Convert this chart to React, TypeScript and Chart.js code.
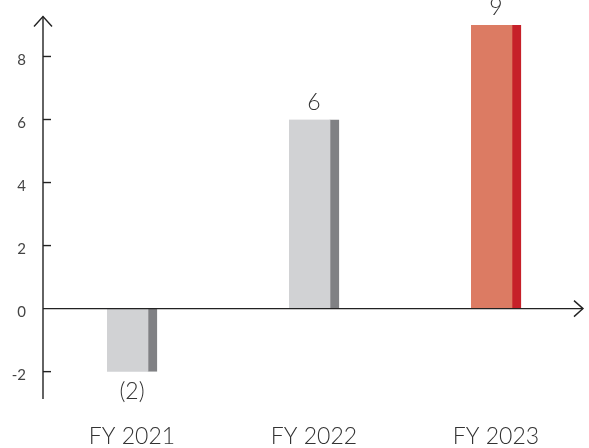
import React, { useEffect, useRef } from "react";
import { Chart, registerables } from "chart.js";

Chart.register(...registerables);

const categories = ["FY 2021", "FY 2022", "FY 2023"];
const values = [-2, 6, 9];
const yTickValues = [-2, 0, 2, 4, 6, 8];
const yMin = -2.9;
const yMax = 9.3;

const fillColors = ["#D1D2D4", "#D1D2D4", "#DC7B63"];
const edgeColors = ["#808184", "#808184", "#C62029"];

const FONT = "Lato, 'Open Sans', sans-serif";

const fmt = (v: number) => (v < 0 ? `(${-v})` : `${v}`);

const axesPlugin = {
  id: "customAxes",
  afterDatasetsDraw(chart: any) {
    const { ctx, chartArea, scales } = chart;
    const ys = scales.y;
    const x0 = chartArea.left + 2;
    const zeroY = ys.getPixelForValue(0);
    const topY = chartArea.top + 1;
    const bottomY = chartArea.bottom - 1;
    const rightX = chartArea.right - 4;

    ctx.save();
    ctx.strokeStyle = "#222";
    ctx.lineWidth = 1.4;
    ctx.lineCap = "butt";

    // y axis
    ctx.beginPath();
    ctx.moveTo(x0, bottomY);
    ctx.lineTo(x0, topY);
    ctx.stroke();
    ctx.beginPath();
    ctx.moveTo(x0 - 9, topY + 10);
    ctx.lineTo(x0, topY);
    ctx.lineTo(x0 + 9, topY + 10);
    ctx.stroke();

    // x axis
    ctx.beginPath();
    ctx.moveTo(x0, zeroY);
    ctx.lineTo(rightX, zeroY);
    ctx.stroke();
    ctx.beginPath();
    ctx.moveTo(rightX - 9, zeroY - 8);
    ctx.lineTo(rightX, zeroY);
    ctx.lineTo(rightX - 9, zeroY + 8);
    ctx.stroke();

    // y ticks
    yTickValues.forEach((v) => {
      if (v === 0) return;
      const py = ys.getPixelForValue(v);
      ctx.beginPath();
      ctx.moveTo(x0, py);
      ctx.lineTo(x0 + 8, py);
      ctx.stroke();
    });

    // value labels
    const meta = chart.getDatasetMeta(0);
    ctx.fillStyle = "#333";
    ctx.font = `300 23px ${FONT}`;
    ctx.textAlign = "center";
    meta.data.forEach((el: any, i: number) => {
      const v = values[i];
      if (v >= 0) {
        ctx.textBaseline = "alphabetic";
        ctx.fillText(fmt(v), el.x, el.y - 10);
      } else {
        ctx.textBaseline = "top";
        ctx.fillText(fmt(v), el.x, el.y + 8);
      }
    });
    ctx.restore();
  },
};

export default function App() {
  const ref = useRef<HTMLCanvasElement | null>(null);

  useEffect(() => {
    if (!ref.current) return;
    const chart = new Chart(ref.current, {
      type: "bar",
      data: {
        labels: categories,
        datasets: [
          {
            data: values,
            backgroundColor: fillColors,
            borderColor: edgeColors,
            borderWidth: { top: 0, right: 9, bottom: 0, left: 0 },
            borderSkipped: false,
            barThickness: 50,
          },
        ],
      },
      options: {
        responsive: false,
        animation: false,
        devicePixelRatio: 1,
        layout: { padding: { left: 0, top: 15.5, right: 2, bottom: 0 } },
        plugins: {
          legend: { display: false },
          tooltip: { enabled: false },
        },
        scales: {
          x: {
            type: "category",
            offset: true,
            grid: { display: false, drawTicks: false },
            border: { display: false },
            ticks: {
              font: { family: FONT, size: 23, weight: "300" },
              color: "#333",
              padding: 23,
              maxRotation: 0,
              autoSkip: false,
            },
            afterFit: (s: any) => {
              s.height = 48;
              s.paddingLeft = 0;
              s.paddingRight = 0;
            },
          },
          y: {
            type: "linear",
            min: yMin,
            max: yMax,
            grid: { display: false, drawTicks: true, tickLength: 13 },
            border: { display: false },
            ticks: {
              font: { family: FONT, size: 15, weight: "400" },
              color: "#444",
              padding: 2,
              labelOffset: 4,
              callback: (v: any) => String(v),
            },
            afterBuildTicks: (s: any) => {
              s.ticks = yTickValues.map((v) => ({ value: v }));
            },
            afterFit: (s: any) => {
              s.width = 41;
              s.paddingTop = 0;
              s.paddingBottom = 0;
            },
          },
        },
      } as any,
      plugins: [axesPlugin],
    });
    return () => chart.destroy();
  }, []);

  return (
    <div style={{ position: "absolute", left: 0, top: 0, width: 589, height: 448 }}>
      <canvas ref={ref} width={589} height={448} style={{ width: 589, height: 448 }} />
    </div>
  );
}
